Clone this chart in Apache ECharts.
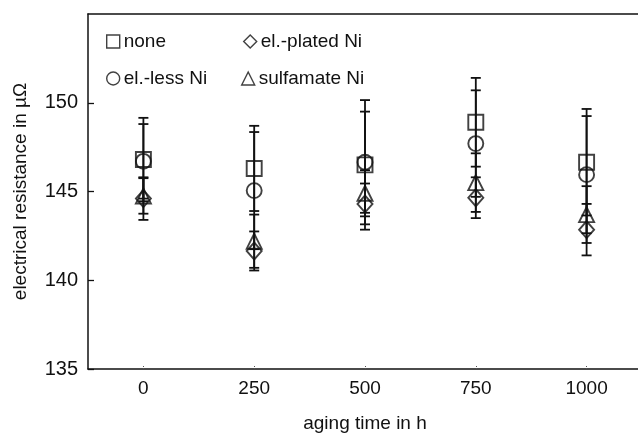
<!DOCTYPE html>
<html>
<head>
<meta charset="utf-8">
<script src="https://cdn.jsdelivr.net/npm/echarts@6/dist/echarts.min.js"></script>
<style>
  html, body { margin: 0; padding: 0; background: #fff; }
  #chart { width: 638px; height: 435px; }
</style>
</head>
<body>
<div id="chart"></div>
<script>
// aging times (h)
const agingTimes = [0, 250, 500, 750, 1000];

// mean electrical resistance in µΩ per coating
const noneMean      = [146.8, 146.3, 146.5, 148.9, 146.65];
const elLessMean    = [146.7, 145.05, 146.65, 147.7, 145.95];
const elPlatedMean  = [144.6, 141.65, 144.3, 144.65, 142.85];
const sulfamateMean = [144.75, 142.2, 144.9, 145.5, 143.7];

// standard deviation (error bar half-length)
const noneErr      = [2.35, 2.4, 3.65, 2.5, 3.0];
const elLessErr    = [2.1, 3.3, 2.85, 3.0, 3.3];
const elPlatedErr  = [1.2, 1.1, 1.15, 1.15, 1.45];
const sulfamateErr = [1.0, 1.5, 1.3, 1.65, 1.6];

const xTicks = [0, 250, 500, 750, 1000];
const yTicks = [135, 140, 145, 150];

const INK = '#111';
const FONT = 'Liberation Sans, Arial, sans-serif';

function pts(means) { return agingTimes.map((t, i) => [t, means[i]]); }
function errPts(means, errs) { return agingTimes.map((t, i) => [t, means[i], errs[i]]); }

function renderErr(params, api) {
  const x = api.value(0), y = api.value(1), e = api.value(2);
  const hi = api.coord([x, y + e]);
  const lo = api.coord([x, y - e]);
  const w = 5;
  const st = { stroke: INK, lineWidth: 1.8 };
  return {
    type: 'group',
    children: [
      { type: 'line', shape: { x1: hi[0], y1: hi[1], x2: lo[0], y2: lo[1] }, style: st },
      { type: 'line', shape: { x1: hi[0] - w, y1: hi[1], x2: hi[0] + w, y2: hi[1] }, style: st },
      { type: 'line', shape: { x1: lo[0] - w, y1: lo[1], x2: lo[0] + w, y2: lo[1] }, style: st }
    ]
  };
}

const hollow = { color: 'rgba(255,255,255,0)', borderColor: INK, borderWidth: 1.9 };

function scatter(name, means, symbol, size) {
  return {
    name, type: 'scatter', data: pts(means), symbol, symbolSize: size,
    itemStyle: hollow, z: 3, emphasis: { disabled: true }
  };
}
function errSeries(means, errs) {
  return { type: 'custom', data: errPts(means, errs), renderItem: renderErr, z: 2, silent: true };
}

function legendAt(name, left, top) {
  return {
    data: [name], left, top, orient: 'horizontal',
    itemWidth: 13, itemHeight: 13, itemGap: 0,
    itemStyle: { color: 'rgba(255,255,255,0)', borderColor: INK, borderWidth: 1.4 },
    textStyle: { fontFamily: FONT, fontSize: 19, color: INK, padding: [0, 0, 0, -1] },
    selectedMode: false
  };
}

const chart = echarts.init(document.getElementById('chart'), null, { renderer: 'canvas' });
chart.setOption({
  animation: false,
  backgroundColor: '#fff',
  grid: {
    left: 88, top: 14, right: -4, bottom: 66,
    outerBoundsMode: 'none', containLabel: false, show: false
  },
  legend: [
    legendAt('none', 101, 27),
    legendAt('el.-plated Ni', 238, 27),
    legendAt('el.-less Ni', 101, 64),
    legendAt('sulfamate Ni', 236, 64)
  ],
  xAxis: [{
    type: 'value', min: -125, max: 1125,
    name: 'aging time in h', nameLocation: 'middle', nameGap: 45,
    nameTextStyle: { fontFamily: FONT, fontSize: 19, color: INK },
    axisLine: { show: true, onZero: false, lineStyle: { color: INK, width: 1.5 } },
    axisTick: { show: true, inside: true, length: 3, customValues: xTicks,
      lineStyle: { color: '#555', width: 1, type: 'dotted' } },
    axisLabel: { customValues: xTicks, fontFamily: FONT, fontSize: 19, color: INK, margin: 10,
      formatter: v => String(v) },
    splitLine: { show: false }
  }, {
    // top frame line
    type: 'value', position: 'top', min: -125, max: 1125,
    axisLine: { show: true, onZero: false, lineStyle: { color: INK, width: 1.5 } },
    axisTick: { show: false }, axisLabel: { show: false }, splitLine: { show: false }
  }],
  yAxis: {
    type: 'value', min: 135, max: 155,
    name: 'electrical resistance in µΩ', nameLocation: 'middle', nameGap: 58, nameRotate: 90,
    nameTextStyle: { fontFamily: FONT, fontSize: 19, color: INK },
    axisLine: { show: true, onZero: false, lineStyle: { color: INK, width: 1.5 } },
    axisTick: { show: true, inside: true, length: 6, customValues: yTicks,
      lineStyle: { color: INK, width: 1.3 } },
    axisLabel: { customValues: yTicks, fontFamily: FONT, fontSize: 20, color: INK, margin: 10,
      formatter: v => String(v) },
    splitLine: { show: false }
  },
  series: [
    errSeries(noneMean, noneErr),
    errSeries(elLessMean, elLessErr),
    errSeries(elPlatedMean, elPlatedErr),
    errSeries(sulfamateMean, sulfamateErr),
    scatter('none', noneMean, 'rect', 15),
    scatter('el.-plated Ni', elPlatedMean, 'diamond', [15, 17]),
    scatter('el.-less Ni', elLessMean, 'circle', 15),
    scatter('sulfamate Ni', sulfamateMean, 'triangle', [15, 15])
  ]
});
</script>
</body>
</html>
